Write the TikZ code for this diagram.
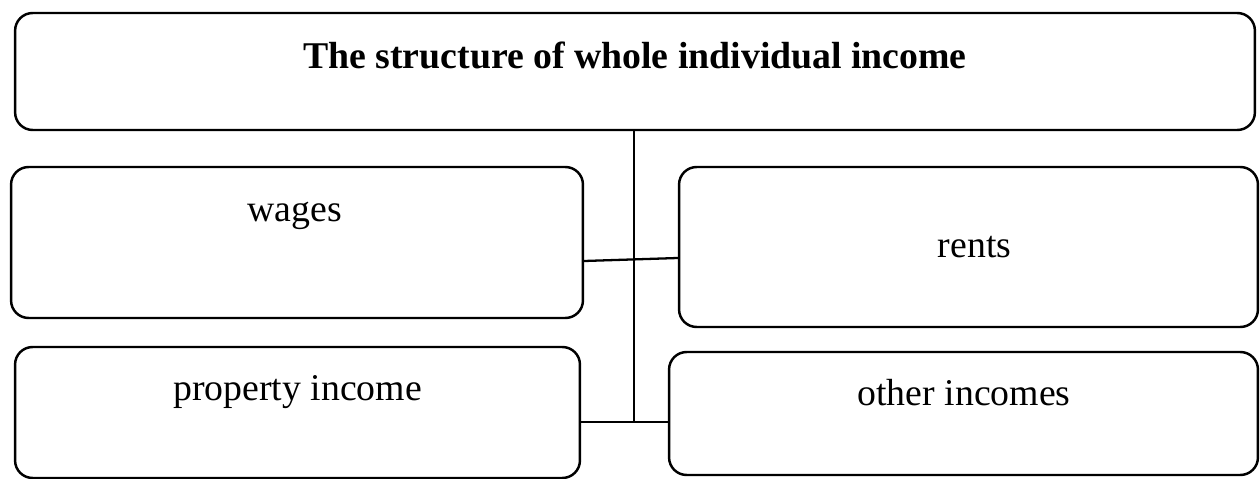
\documentclass[tikz,border=0pt]{standalone}
\usepackage{fontspec}
\setmainfont{Liberation Serif}
\usetikzlibrary{positioning, calc}
\tikzset{
  incbox/.style={draw, line width=1.4pt, rounded corners=10pt, inner sep=0pt},
  inctext/.style={font=\fontsize{21.5}{25}\selectfont, inner sep=0pt, anchor=base},
  link/.style={line width=1.3pt}
}
\begin{document}
\begin{tikzpicture}[x=0.02cm, y=-0.02cm]
  \useasboundingbox (0,0) rectangle (1260,479);

  % Boxes
  \node[incbox, minimum width=24.8cm, minimum height=2.34cm] (whole) at (635,71.5) {};
  \node[incbox, minimum width=11.44cm, minimum height=3.02cm] (wages) at (297,242.5) {};
  \node[incbox, minimum width=11.58cm, minimum height=3.2cm] (rents) at (968.5,247) {};
  \node[incbox, minimum width=11.3cm, minimum height=2.62cm] (property) at (297.5,412.5) {};
  \node[incbox, minimum width=11.78cm, minimum height=2.46cm] (other) at (963.5,413.5) {};

  % Labels
  \node[inctext, font=\fontsize{21.5}{25}\selectfont\bfseries] (wholetext) at (635,69) {The structure of whole individual income};
  \node[inctext] (wagestext) at (294.5,222) {wages};
  \node[inctext] (rentstext) at (974.5,258) {rents};
  \node[inctext] (propertytext) at (297.5,400) {property income};
  \node[inctext] (othertext) at (964,405) {other incomes};

  % Connectors
  \coordinate (trunkend) at (634,422);
  \draw[link] (whole.south -| trunkend) -- (trunkend);
  \draw[link] (wages.east |- 0,261) -- (rents.west |- 0,258);
  \draw[link] (property.east |- trunkend) -- (other.west |- trunkend);
\end{tikzpicture}
\end{document}
